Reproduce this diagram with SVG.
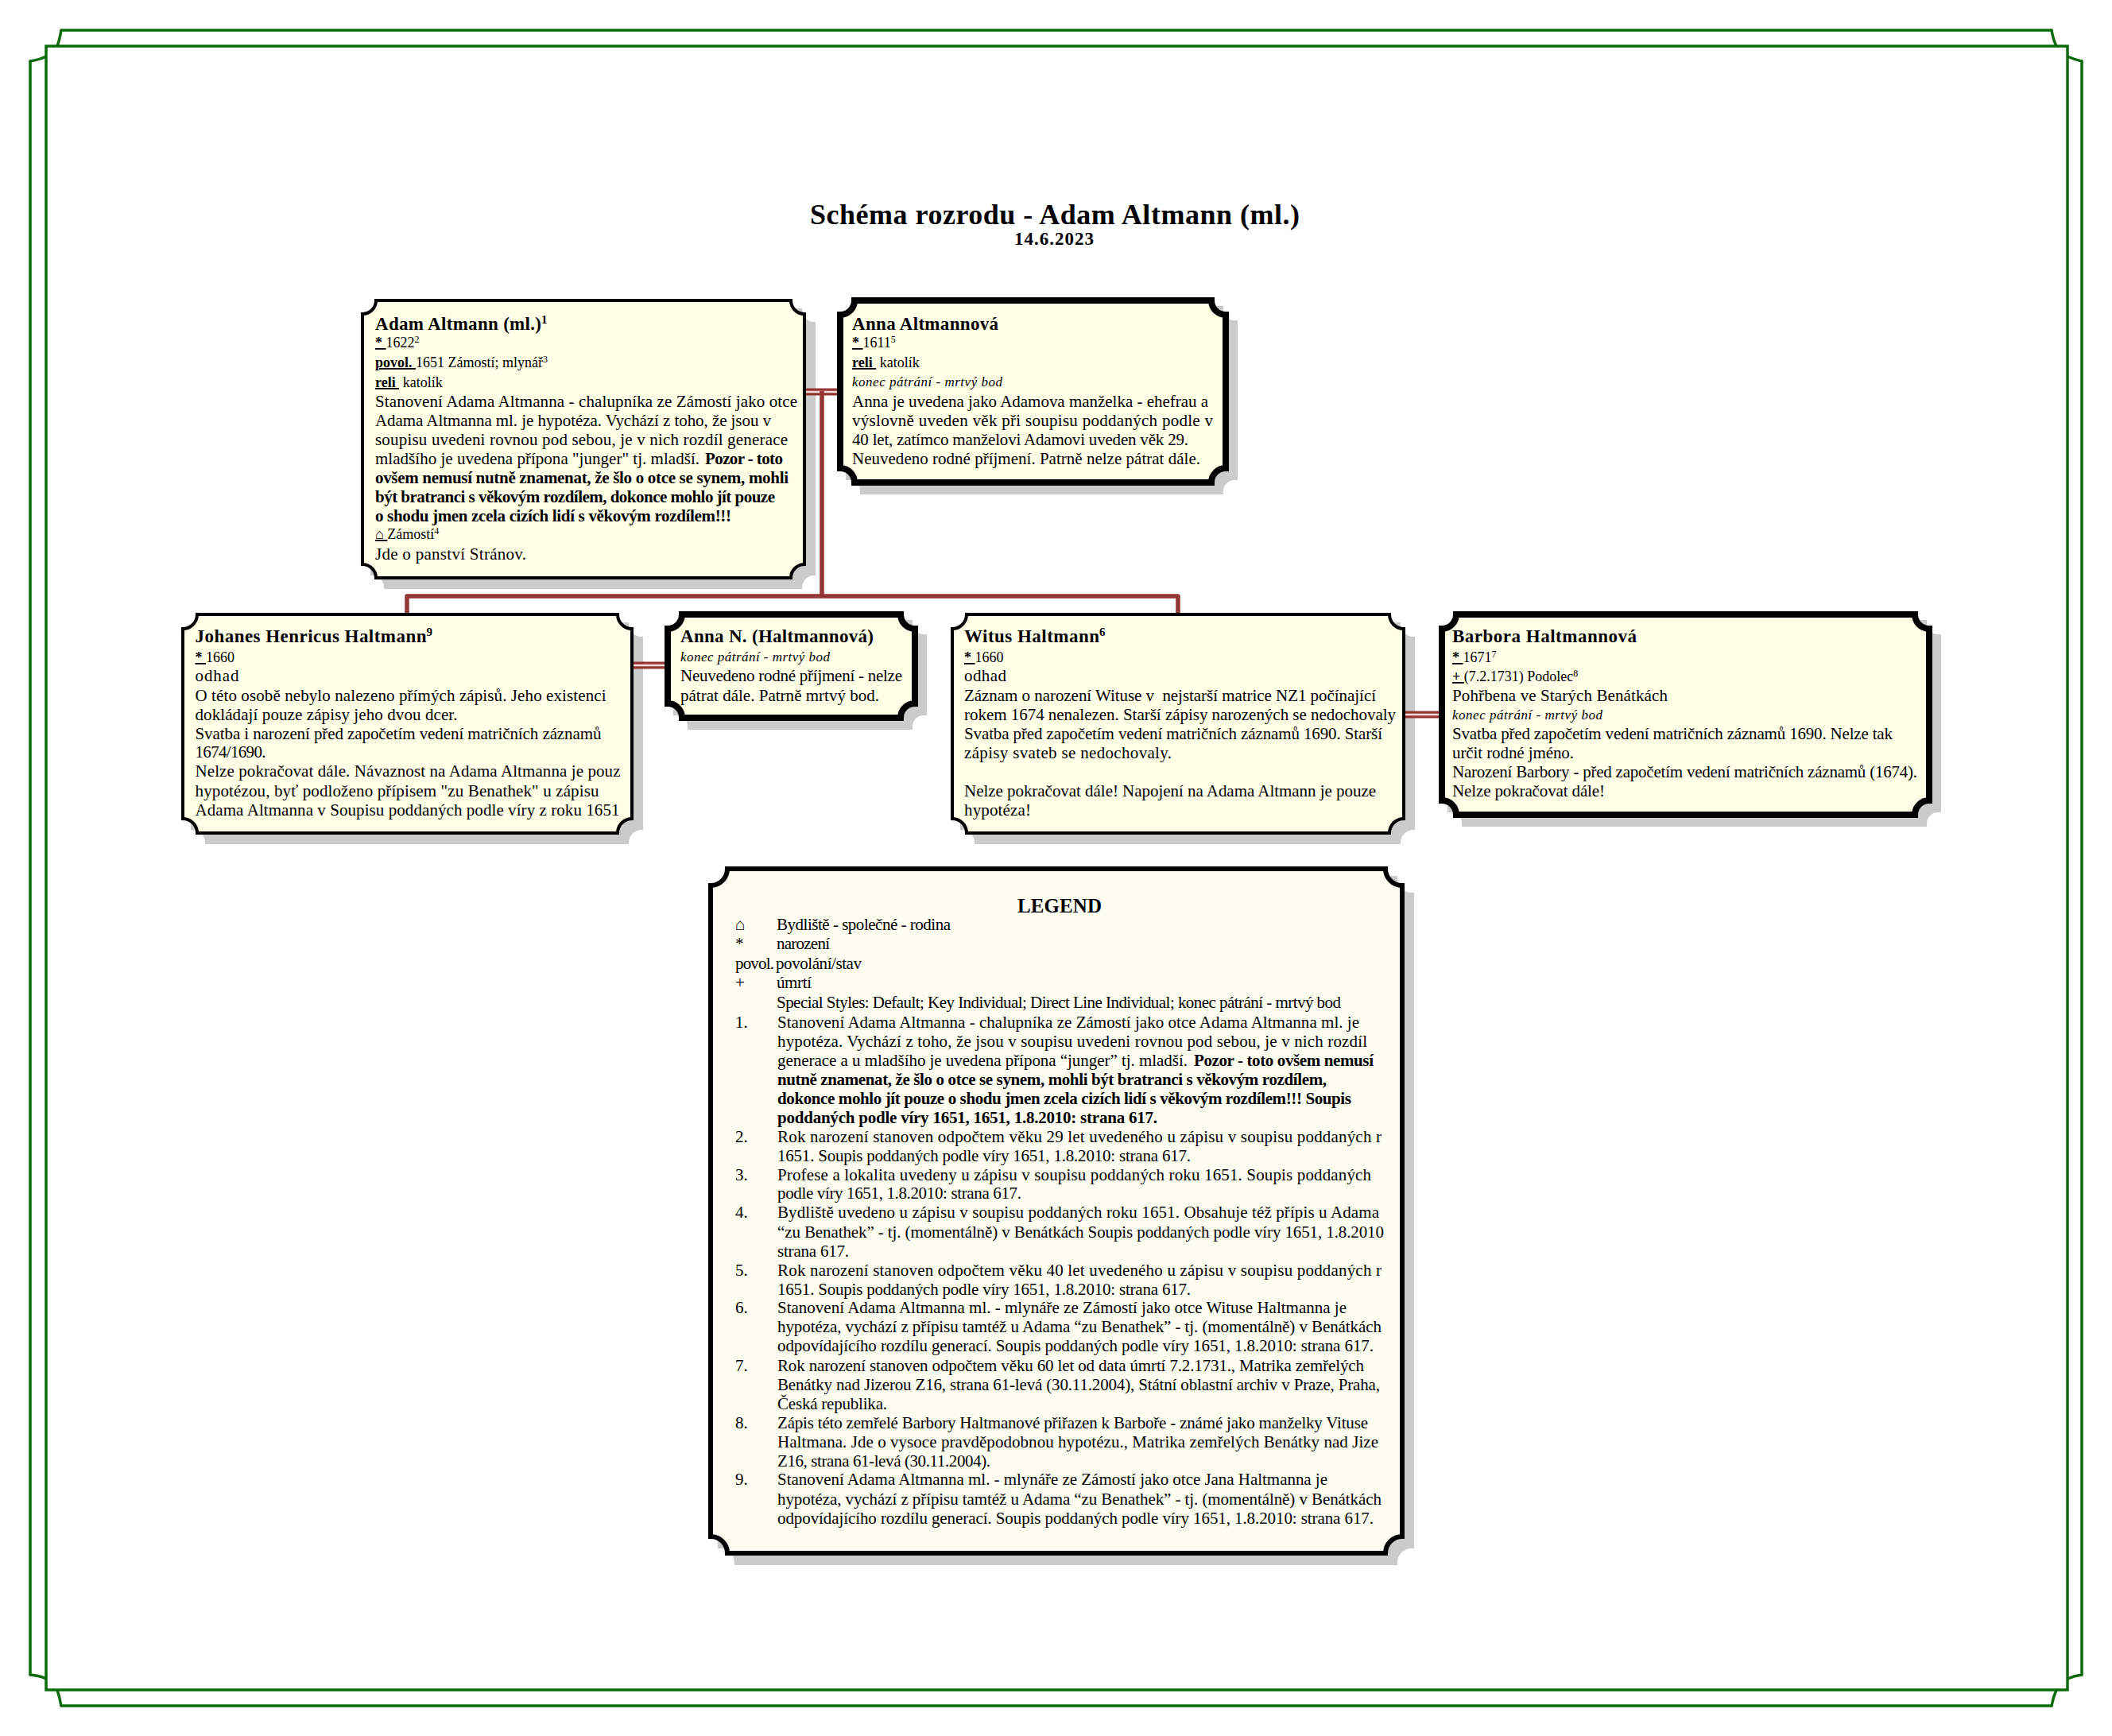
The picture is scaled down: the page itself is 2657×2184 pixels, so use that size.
<svg xmlns="http://www.w3.org/2000/svg" xmlns:xlink="http://www.w3.org/1999/xlink" width="2657" height="2184" viewBox="0 0 2657 2184">
<style>
text{font-family:"Liberation Serif","DejaVu Serif",serif;fill:#000;white-space:pre}
.n{font-size:21px}.b{font-size:21px;font-weight:bold}.s{font-size:18px}.i{font-size:17px;font-style:italic}
.h{font-size:23px;font-weight:bold}.u{font-weight:bold;text-decoration:underline}.ul{text-decoration:underline}
.sup{font-size:12px}.tsup{font-size:15px;font-weight:bold}
.box{fill:#fffee6;stroke:#000;stroke-width:4}.key{fill:#fffee6;stroke:#000;stroke-width:8}
.leg{fill:#fdfcf0;stroke:#000;stroke-width:6}
.sh{fill:#cbcbcb;stroke:#cbcbcb}
.bd{fill:none;stroke:#0b6b0b;stroke-width:3.5}
.con{fill:none;stroke:#943634;stroke-width:5.5;stroke-linejoin:round}
.dbl{fill:none;stroke:#943634;stroke-width:9}.gap{fill:none;stroke:#f3dcd8;stroke-width:2.5}
</style>
<defs>
<path id="pAdam" d="M473,378H995A17,17 0 0 0 1012,395V710A17,17 0 0 0 995,727H473A17,17 0 0 0 456,710V395A17,17 0 0 0 473,378Z"/>
<path id="pAnna" d="M1075,378H1524A18,18 0 0 0 1542,396V589A18,18 0 0 0 1524,607H1075A18,18 0 0 0 1057,589V396A18,18 0 0 0 1075,378Z"/>
<path id="pJoh" d="M248,773H777A18,18 0 0 0 795,791V1030A18,18 0 0 0 777,1048H248A18,18 0 0 0 230,1030V791A18,18 0 0 0 248,773Z"/>
<path id="pAnnaN" d="M858,773H1133A18,18 0 0 0 1151,791V885A18,18 0 0 0 1133,903H858A18,18 0 0 0 840,885V791A18,18 0 0 0 858,773Z"/>
<path id="pWit" d="M1216,773H1748A18,18 0 0 0 1766,791V1030A18,18 0 0 0 1748,1048H1216A18,18 0 0 0 1198,1030V791A18,18 0 0 0 1216,773Z"/>
<path id="pBar" d="M1832,773H2409A18,18 0 0 0 2427,791V1007A18,18 0 0 0 2409,1025H1832A18,18 0 0 0 1814,1007V791A18,18 0 0 0 1832,773Z"/>
<path id="pLeg" d="M915,1093H1743A21,21 0 0 0 1764,1114V1933A21,21 0 0 0 1743,1954H915A21,21 0 0 0 894,1933V1114A21,21 0 0 0 915,1093Z"/>
</defs>
<rect width="2657" height="2184" fill="#fff"/>
<g id="border">
<rect class="bd" x="58" y="58" width="2543" height="2068"/>
<path class="bd" d="M72,58Q75,50 77,38H2581Q2583,50 2587,58M58,71Q50,75 38,77V2107Q50,2108 58,2112M2601,71Q2610,75 2619,77V2107Q2610,2108 2601,2112M72,2126Q75,2135 77,2146H2581Q2583,2135 2587,2126"/>
</g>
<g id="title">
<text x="1019" y="282" font-size="36" font-weight="bold" textLength="616">Schéma rozrodu - Adam Altmann (ml.)</text>
<text x="1276" y="308" class="h" textLength="100">14.6.2023</text>
</g>
<g id="node-adam">
<use href="#pAdam" class="sh" stroke-width="4" transform="translate(12 12)"/>
<use href="#pAdam" class="box"/>
<text class="h" x="472" y="415" textLength="209">Adam Altmann (ml.)</text>
<text class="tsup" x="681" y="407">1</text>
<text class="s" x="472" y="437"><tspan class="u">* </tspan>1622<tspan class="sup" dy="-6">2</tspan></text>
<text class="s" x="472" y="462"><tspan class="u">povol. </tspan>1651 Zámostí; mlynář<tspan class="sup" dy="-6">3</tspan></text>
<text class="s" x="472" y="487"><tspan class="u">reli </tspan> katolík</text>
<text class="n" x="472" y="512" textLength="531">Stanovení Adama Altmanna - chalupníka ze Zámostí jako otce</text>
<text class="n" x="472" y="536" textLength="498">Adama Altmanna ml. je hypotéza. Vychází z toho, že jsou v</text>
<text class="n" x="472" y="560" textLength="519">soupisu uvedeni rovnou pod sebou, je v nich rozdíl generace</text>
<text class="n" x="472" y="584" textLength="408">mladšího je uvedena přípona "junger" tj. mladší.</text>
<text class="b" x="887" y="584" textLength="98">Pozor - toto</text>
<text class="b" x="472" y="608" textLength="520">ovšem nemusí nutně znamenat, že šlo o otce se synem, mohli</text>
<text class="b" x="472" y="632" textLength="503">být bratranci s věkovým rozdílem, dokonce mohlo jít pouze</text>
<text class="b" x="472" y="656" textLength="448">o shodu jmen zcela cizích lidí s věkovým rozdílem!!!</text>
<text class="s" x="472" y="678"><tspan class="ul">⌂ </tspan>Zámostí<tspan class="sup" dy="-6">4</tspan></text>
<text class="n" x="472" y="704" textLength="190">Jde o panství Stránov.</text>
</g>
<g id="node-anna">
<use href="#pAnna" class="sh" stroke-width="8" transform="translate(11 11)"/>
<use href="#pAnna" class="key"/>
<text class="h" x="1072" y="415" textLength="184">Anna Altmannová</text>
<text class="s" x="1072" y="437"><tspan class="u">* </tspan>1611<tspan class="sup" dy="-6">5</tspan></text>
<text class="s" x="1072" y="462"><tspan class="u">reli </tspan> katolík</text>
<text class="i" x="1072" y="486" textLength="189">konec pátrání - mrtvý bod</text>
<text class="n" x="1072" y="512" textLength="448">Anna je uvedena jako Adamova manželka - ehefrau a</text>
<text class="n" x="1072" y="536" textLength="454">výslovně uveden věk při soupisu poddaných podle v</text>
<text class="n" x="1072" y="560" textLength="423">40 let, zatímco manželovi Adamovi uveden věk 29.</text>
<text class="n" x="1072" y="584" textLength="438">Neuvedeno rodné příjmení. Patrně nelze pátrat dále.</text>
</g>
<g id="node-johanes">
<use href="#pJoh" class="sh" stroke-width="4" transform="translate(12 12)"/>
<use href="#pJoh" class="box"/>
<text class="h" x="245.500" y="808" textLength="291">Johanes Henricus Haltmann</text>
<text class="tsup" x="536.500" y="800">9</text>
<text class="s" x="245.500" y="833"><tspan class="u">* </tspan>1660</text>
<text class="n" x="245.500" y="857" textLength="55">odhad</text>
<text class="n" x="245.500" y="882" textLength="517">O této osobě nebylo nalezeno přímých zápisů. Jeho existenci</text>
<text class="n" x="245.500" y="906" textLength="330">dokládají pouze zápisy jeho dvou dcer.</text>
<text class="n" x="245.500" y="930" textLength="511">Svatba i narození před započetím vedení matričních záznamů</text>
<text class="n" x="245.500" y="953" textLength="89">1674/1690.</text>
<text class="n" x="245.500" y="977" textLength="535">Nelze pokračovat dále. Návaznost na Adama Altmanna je pouz</text>
<text class="n" x="245.500" y="1002" textLength="508">hypotézou, byť podloženo přípisem "zu Benathek" u zápisu</text>
<text class="n" x="245.500" y="1026" textLength="534">Adama Altmanna v Soupisu poddaných podle víry z roku 1651</text>
</g>
<g id="node-anna-n">
<use href="#pAnnaN" class="sh" stroke-width="8" transform="translate(11 11)"/>
<use href="#pAnnaN" class="key"/>
<text class="h" x="856" y="808" textLength="243">Anna N. (Haltmannová)</text>
<text class="i" x="856" y="832" textLength="188">konec pátrání - mrtvý bod</text>
<text class="n" x="856" y="857" textLength="279">Neuvedeno rodné příjmení - nelze</text>
<text class="n" x="856" y="882" textLength="250">pátrat dále. Patrně mrtvý bod.</text>
</g>
<g id="node-witus">
<use href="#pWit" class="sh" stroke-width="4" transform="translate(12 12)"/>
<use href="#pWit" class="box"/>
<text class="h" x="1213" y="808" textLength="170">Witus Haltmann</text>
<text class="tsup" x="1383" y="800">6</text>
<text class="s" x="1213" y="833"><tspan class="u">* </tspan>1660</text>
<text class="n" x="1213" y="857" textLength="53">odhad</text>
<text class="n" x="1213" y="882" textLength="518">Záznam o narození Wituse v  nejstarší matrice NZ1 počínající</text>
<text class="n" x="1213" y="906" textLength="543">rokem 1674 nenalezen. Starší zápisy narozených se nedochovaly</text>
<text class="n" x="1213" y="930" textLength="526">Svatba před započetím vedení matričních záznamů 1690. Starší</text>
<text class="n" x="1213" y="954" textLength="261">zápisy svateb se nedochovaly.</text>
<text class="n" x="1213" y="1002" textLength="518">Nelze pokračovat dále! Napojení na Adama Altmann je pouze</text>
<text class="n" x="1213" y="1026" textLength="84">hypotéza!</text>
</g>
<g id="node-barbora">
<use href="#pBar" class="sh" stroke-width="8" transform="translate(11 11)"/>
<use href="#pBar" class="key"/>
<text class="h" x="1827" y="808" textLength="232">Barbora Haltmannová</text>
<text class="s" x="1827" y="833"><tspan class="u">* </tspan>1671<tspan class="sup" dy="-6">7</tspan></text>
<text class="s" x="1827" y="857"><tspan class="u">+ </tspan>(7.2.1731) Podolec<tspan class="sup" dy="-6">8</tspan></text>
<text class="n" x="1827" y="882" textLength="271">Pohřbena ve Starých Benátkách</text>
<text class="i" x="1827" y="905" textLength="189">konec pátrání - mrtvý bod</text>
<text class="n" x="1827" y="930" textLength="554">Svatba před započetím vedení matričních záznamů 1690. Nelze tak</text>
<text class="n" x="1827" y="954" textLength="153">určit rodné jméno.</text>
<text class="n" x="1827" y="978" textLength="585">Narození Barbory - před započetím vedení matričních záznamů (1674).</text>
<text class="n" x="1827" y="1002" textLength="192">Nelze pokračovat dále!</text>
</g>
<g id="connectors">
<path class="dbl" d="M1014,493H1053M797,837H836M1768,899H1810"/>
<path class="gap" d="M1014,493H1053M797,837H836M1768,899H1810"/>
<path class="con" d="M1034,492V750M512,771V750H1482V771"/>
</g>
<g id="legend">
<use href="#pLeg" class="sh" stroke-width="6" transform="translate(12 12)"/>
<use href="#pLeg" class="leg"/>
<text x="1280" y="1148" font-size="25" font-weight="bold" textLength="106">LEGEND</text>
<text class="n" x="925" y="1170">⌂</text><text class="n" x="977" y="1170" textLength="219">Bydliště - společné - rodina</text>
<text class="n" x="925" y="1194">*</text><text class="n" x="977" y="1194" textLength="67">narození</text>
<text class="n" x="925" y="1219" textLength="49">povol.</text><text class="n" x="976" y="1219" textLength="108">povolání/stav</text>
<text class="n" x="925" y="1243">+</text><text class="n" x="977" y="1243" textLength="44">úmrtí</text>
<text class="n" x="977" y="1268" textLength="710">Special Styles: Default; Key Individual; Direct Line Individual; konec pátrání - mrtvý bod</text>
<text class="n" x="925" y="1293">1.</text>
<text class="n" x="978" y="1293" textLength="732">Stanovení Adama Altmanna - chalupníka ze Zámostí jako otce Adama Altmanna ml. je</text>
<text class="n" x="978" y="1317" textLength="742">hypotéza. Vychází z toho, že jsou v soupisu uvedeni rovnou pod sebou, je v nich rozdíl</text>
<text class="n" x="978" y="1341" textLength="516">generace a u mladšího je uvedena přípona “junger” tj. mladší.</text>
<text class="b" x="1502" y="1341" textLength="226">Pozor - toto ovšem nemusí</text>
<text class="b" x="978" y="1365" textLength="691">nutně znamenat, že šlo o otce se synem, mohli být bratranci s věkovým rozdílem,</text>
<text class="b" x="978" y="1389" textLength="722">dokonce mohlo jít pouze o shodu jmen zcela cizích lidí s věkovým rozdílem!!! Soupis</text>
<text class="b" x="978" y="1413" textLength="478">poddaných podle víry 1651, 1651, 1.8.2010: strana 617.</text>
<text class="n" x="925" y="1437">2.</text>
<text class="n" x="978" y="1437" textLength="760">Rok narození stanoven odpočtem věku 29 let uvedeného u zápisu v soupisu poddaných r</text>
<text class="n" x="978" y="1461" textLength="520">1651. Soupis poddaných podle víry 1651, 1.8.2010: strana 617.</text>
<text class="n" x="925" y="1485">3.</text>
<text class="n" x="978" y="1485" textLength="747">Profese a lokalita uvedeny u zápisu v soupisu poddaných roku 1651. Soupis poddaných</text>
<text class="n" x="978" y="1508" textLength="307">podle víry 1651, 1.8.2010: strana 617.</text>
<text class="n" x="925" y="1532">4.</text>
<text class="n" x="978" y="1532" textLength="757">Bydliště uvedeno u zápisu v soupisu poddaných roku 1651. Obsahuje též přípis u Adama</text>
<text class="n" x="978" y="1557" textLength="763">“zu Benathek” - tj. (momentálně) v Benátkách Soupis poddaných podle víry 1651, 1.8.2010</text>
<text class="n" x="978" y="1581" textLength="90">strana 617.</text>
<text class="n" x="925" y="1605">5.</text>
<text class="n" x="978" y="1605" textLength="760">Rok narození stanoven odpočtem věku 40 let uvedeného u zápisu v soupisu poddaných r</text>
<text class="n" x="978" y="1629" textLength="520">1651. Soupis poddaných podle víry 1651, 1.8.2010: strana 617.</text>
<text class="n" x="925" y="1652">6.</text>
<text class="n" x="978" y="1652" textLength="716">Stanovení Adama Altmanna ml. - mlynáře ze Zámostí jako otce Wituse Haltmanna je</text>
<text class="n" x="978" y="1676" textLength="760">hypotéza, vychází z přípisu tamtéž u Adama “zu Benathek” - tj. (momentálně) v Benátkách</text>
<text class="n" x="978" y="1700" textLength="750">odpovídajícího rozdílu generací. Soupis poddaných podle víry 1651, 1.8.2010: strana 617.</text>
<text class="n" x="925" y="1725">7.</text>
<text class="n" x="978" y="1725" textLength="738">Rok narození stanoven odpočtem věku 60 let od data úmrtí 7.2.1731., Matrika zemřelých</text>
<text class="n" x="978" y="1749" textLength="758">Benátky nad Jizerou Z16, strana 61-levá (30.11.2004), Státní oblastní archiv v Praze, Praha,</text>
<text class="n" x="978" y="1773" textLength="138">Česká republika.</text>
<text class="n" x="925" y="1797">8.</text>
<text class="n" x="978" y="1797" textLength="743">Zápis této zemřelé Barbory Haltmanové přiřazen k Barboře - známé jako manželky Vituse</text>
<text class="n" x="978" y="1821" textLength="756">Haltmana. Jde o vysoce pravděpodobnou hypotézu., Matrika zemřelých Benátky nad Jize</text>
<text class="n" x="978" y="1845" textLength="268">Z16, strana 61-levá (30.11.2004).</text>
<text class="n" x="925" y="1868">9.</text>
<text class="n" x="978" y="1868" textLength="692">Stanovení Adama Altmanna ml. - mlynáře ze Zámostí jako otce Jana Haltmanna je</text>
<text class="n" x="978" y="1893" textLength="760">hypotéza, vychází z přípisu tamtéž u Adama “zu Benathek” - tj. (momentálně) v Benátkách</text>
<text class="n" x="978" y="1917" textLength="750">odpovídajícího rozdílu generací. Soupis poddaných podle víry 1651, 1.8.2010: strana 617.</text>
</g>
</svg>
